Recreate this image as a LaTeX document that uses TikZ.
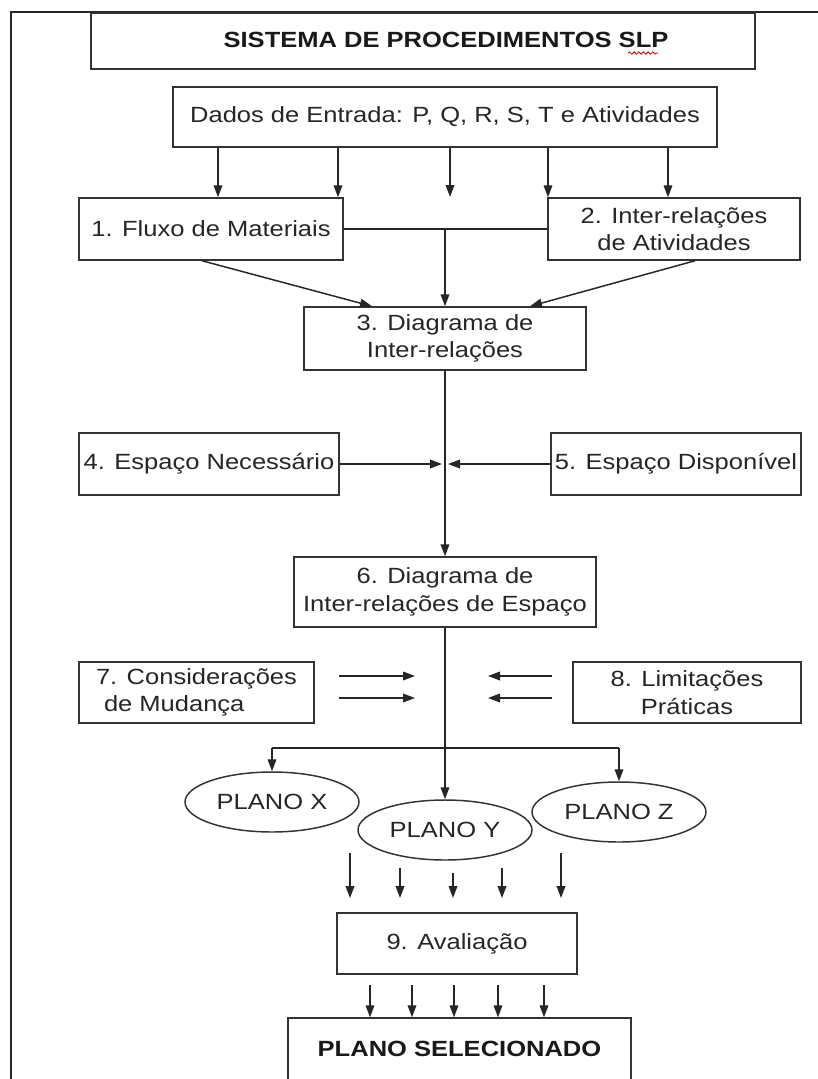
\documentclass[tikz,border=0pt]{standalone}
\usepackage{fontspec}
\setmainfont{Liberation Sans}[FakeStretch=1.16]
\usetikzlibrary{arrows.meta,shapes.geometric,decorations.pathmorphing}

\begin{document}
\begin{tikzpicture}[x=0.75pt,y=-0.75pt,
  txt/.style={font=\fontsize{16.5}{20.5}\selectfont, text=black!85},
  boldtxt/.style={font=\bfseries\fontsize{16.5}{20.5}\selectfont, text=black!90},
  box/.style={draw=black!80, line width=1.1pt, rectangle, inner sep=0pt, align=center, txt},
  oval/.style={draw=black!80, line width=1.1pt, ellipse, inner sep=0pt,
    minimum width=130.5pt, minimum height=45pt, txt},
  arr/.style={draw=black!85, line width=1.1pt, -{Triangle[length=9pt,width=6.5pt]}},
  ln/.style={draw=black!85, line width=1.1pt},
]
\useasboundingbox (0,0) rectangle (818,1079);
\clip (0,0) rectangle (818,1079);
\fill[white] (0,0) rectangle (818,1079);

% page frame
\draw[line width=1.3pt, black!85] (11,1090) -- (11,12) -- (830,12);

% title
\node[box, line width=1.8pt, minimum width=498pt, minimum height=42pt] (title) at (423,41) {};
\node[boldtxt, inner sep=0pt] (titletxt) at (446,40) {SISTEMA DE PROCEDIMENTOS SLP};
\draw[red!80!black, line width=0.6pt, decorate,
  decoration={snake, amplitude=0.9pt, segment length=3.5pt}] (628,53) -- (658,53);

% input data
\node[box, minimum width=408pt, minimum height=45pt] (dados) at (445,117)
  {Dados de Entrada: P, Q, R, S, T e Atividades};

% steps
\node[box, minimum width=198pt, minimum height=46.5pt] (f1) at (211,229) {1. Fluxo de Materiais};
\node[box, minimum width=189pt, minimum height=46.5pt] (f2) at (674,229) {2. Inter-relações\\de Atividades};
\node[box, minimum width=211.5pt, minimum height=47.25pt] (f3) at (445,338.5) {3. Diagrama de\\Inter-relações};
\node[box, minimum width=195pt, minimum height=46.5pt] (f4) at (209,464) {4. Espaço Necessário};
\node[box, minimum width=187.5pt, minimum height=46.5pt] (f5) at (676,464) {5. Espaço Disponível};
\node[box, minimum width=226.5pt, minimum height=52.5pt] (f6) at (445,592) {6. Diagrama de\\Inter-relações de Espaço};
\node[box, align=left, minimum width=176.25pt, minimum height=45.75pt] (f7) at (196.5,692.5) {7. Considerações\\\hspace*{6pt}de Mudança};
\node[box, minimum width=171pt, minimum height=45.75pt] (f8) at (687,692.5) {8. Limitações\\Práticas};

% alternative plans
\node[oval] (px) at (272,802) {PLANO X};
\node[oval] (py) at (445,830) {PLANO Y};
\node[oval] (pz) at (619,812) {PLANO Z};

\node[box, minimum width=180pt, minimum height=45.75pt] (f9) at (457,943.5) {9. Avaliação};
\node[box, boldtxt, minimum width=257.25pt, minimum height=46.5pt] (fim) at (459.5,1049) {PLANO SELECIONADO};

% inputs into steps 1 and 2
\coordinate (c0) at (450,197);
\draw[arr] (dados.south -| 218,0) -- (f1.north -| 218,0);
\draw[arr] (dados.south -| 338,0) -- (f1.north -| 338,0);
\draw[arr] (dados.south -| 450,0) -- (c0);
\draw[arr] (dados.south -| 548,0) -- (f2.north -| 548,0);
\draw[arr] (dados.south -| 668,0) -- (f2.north -| 668,0);

% steps 1, 2 -> 3
\draw[ln] (f1.east) -- (f2.west);
\draw[arr] (f1.east -| f3.north) -- (f3.north);
\draw[arr] (f1.south -| 202,0) -- (f3.north -| 372,0);
\draw[arr] (f2.south -| 695,0) -- (f3.north -| 530,0);

% 3 -> 6 with spaces 4 and 5
\coordinate (mL) at (442,465);
\coordinate (mR) at (448,465);
\draw[arr] (f3.south) -- (f6.north);
\draw[arr] (f4.east) -- (f4.east -| mL);
\draw[arr] (f5.west) -- (f5.west -| mR);

% considerations and limitations
\coordinate (a1s) at (339,676); \coordinate (a1e) at (415,676);
\coordinate (a2s) at (339,698); \coordinate (a2e) at (415,698);
\coordinate (b1s) at (552,676); \coordinate (b1e) at (488,676);
\coordinate (b2s) at (552,698); \coordinate (b2e) at (488,698);
\draw[arr] (a1s) -- (a1e);
\draw[arr] (a2s) -- (a2e);
\draw[arr] (b1s) -- (b1e);
\draw[arr] (b2s) -- (b2e);

% 6 -> plans
\coordinate (br) at (445,748);
\draw[arr] (f6.south) -- (py.north);
\draw[ln] (px.north |- br) -- (pz.north |- br);
\draw[arr] (px.north |- br) -- (px.north);
\draw[arr] (pz.north |- br) -- (pz.north);

% plans -> evaluation
\foreach \x/\y [count=\i] in {350/853, 400/868, 453/873, 502/868, 561/853} {
  \coordinate (e\i s) at (\x,\y);
  \coordinate (e\i e) at (\x,898);
  \draw[arr] (e\i s) -- (e\i e);
}

% evaluation -> selected plan
\foreach \x [count=\i] in {370, 412, 454, 498, 544} {
  \coordinate (s\i s) at (\x,985);
  \draw[arr] (s\i s) -- (fim.north -| s\i s);
}
\end{tikzpicture}
\end{document}
